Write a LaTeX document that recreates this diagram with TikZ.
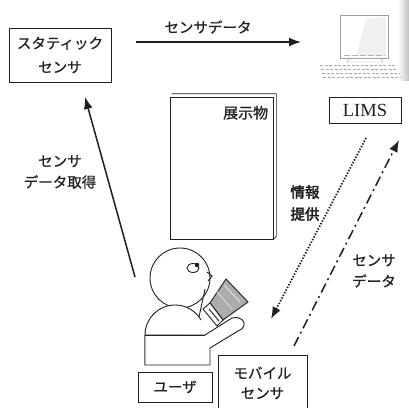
\documentclass[tikz,border=0pt]{standalone}
\usepackage{fontspec}
\newfontfamily\jp[FakeBold=0.7]{Noto Sans CJK JP}
\newfontfamily\jpbold[FakeBold=2.8]{Noto Sans CJK JP}
\newfontfamily\limsfont{Liberation Serif}
\usetikzlibrary{arrows.meta,positioning}
\definecolor{ink}{gray}{0.12}
\tikzset{
  box/.style={draw=ink,line width=1pt,inner sep=0pt,align=center,text=ink,font=\jp\fontsize{14.5}{24}\selectfont},
  lbl/.style={inner sep=0pt,align=center,text=ink,font=\jp\fontsize{14.5}{21}\selectfont},
  flow/.style={->,line width=1.5pt,draw=ink},
  body/.style={draw=ink,line width=0.9pt,fill=white},
}

\begin{document}
\begin{tikzpicture}[x=1pt,y=-1pt,>={Latex[length=12pt,width=9pt]}]
\useasboundingbox (0,0) rectangle (409,407);

% sensors, server and user
\node[box,minimum width=102,minimum height=54] (static) at (60,55) {スタティック\\センサ};
\node[box,minimum width=72,minimum height=26,font=\limsfont\fontsize{18.5}{20}\selectfont] (lims) at (365,110) {LIMS};
\node[box,minimum width=74,minimum height=30] (user) at (175,387) {ユーザ};
\node[box,minimum width=89,minimum height=56,font=\jp\fontsize{14.5}{20}\selectfont] (mobile) at (262.5,383) {モバイル\\センサ};

% exhibit panel
\node[draw=ink,line width=0.7pt,minimum width=103,minimum height=142] (exhibit) at (221.5,168) {};
\draw[ink,line width=0.7pt] ([shift={(2,-3)}]exhibit.north west) -- ([shift={(3,-3)}]exhibit.north east)
  -- ([shift={(3,-3)}]exhibit.south east) -- (exhibit.south east);
\node[lbl,anchor=north east,font=\jp\fontsize{15}{18}\selectfont] (exlabel) at ([shift={(-5,9)}]exhibit.north east) {展示物};

% the computer
\shade[left color=gray!5,right color=gray!50] (399,0) rectangle (409,80);
\fill[gray!12] (366,19) -- (386,17) -- (386,56) -- (356,56) -- cycle;
\draw[gray!75,line width=0.7pt] (340,15) rectangle (388,58);
\draw[gray!60,dash pattern=on 6pt off 2pt] (344,55) -- (385,55);
\draw[gray!70] (350,58) -- (347,62) -- (383,62) -- (380,58);
\foreach \r in {0,...,3}
  \draw[gray!65,line width=0.8pt,dash pattern=on 3pt off 1.5pt] (320+\r,65+\r*4) -- (396+\r*1.5,65+\r*4);

% user
\node[circle,body,minimum size=60,inner sep=0pt] (head) at (180,278) {};
\draw[body] (193,268) ellipse [x radius=6,y radius=4.5];
\fill[ink] (197,265) circle (2.3);
\draw[ink,line width=0.9pt] (207,272) -- (212,276) -- (208,281);
\draw[body] (145,365) -- (145,335) arc[start angle=180,end angle=330,radius=30];
\draw[ink,line width=0.9pt] (205,289) -- (199,317);
\filldraw[draw=ink,fill=gray!65,line width=0.9pt] (226,279) -- (248,302) -- (223,320) -- (210,303) -- cycle;
\draw[gray!25,line width=1pt] (224,285) -- (240,302);
\draw[gray!30,line width=1pt] (217,292) -- (232,309);
\filldraw[body] (210,303) -- (223,320) -- (217,326) -- (203,309) -- cycle;
\draw[ink,line width=0.9pt] (209,309) -- (219,321);
\draw[body] (145,335) -- (205,335) -- (232,318) .. controls (244,315) and (249,327) .. (238,331)
  -- (210,348) -- (210,365) -- (145,365) -- cycle;
\draw[ink,line width=0.5pt] (145,335) -- (205,335);

% data flows
\coordinate (sdA) at (136,42);
\coordinate (sdB) at (301,42);
\draw[flow] (sdA) -- (sdB);
\node[lbl] (sdlbl) at (208,27) {センサデータ};

\coordinate (acqA) at (135,277);
\coordinate (acqB) at (85,97);
\draw[flow] (acqA) -- (acqB);
\node[lbl] (acqlbl) at (60,172) {センサ\\データ取得};

\coordinate (infoA) at (366,138);
\coordinate (infoB) at (271,319);
\draw[flow,line width=1.8pt,dash pattern=on 1.4pt off 1.6pt] (infoA) -- (infoB);
\node[lbl,font=\jpbold\fontsize{14.5}{22}\selectfont] (infolbl) at (305,203) {情報\\提供};

\coordinate (sensA) at (294,346);
\coordinate (sensB) at (399,140);
\draw[flow,dash pattern=on 10pt off 4pt on 2pt off 4pt] (sensA) -- (sensB);
\node[lbl] (senslbl) at (374,271) {センサ\\データ};
\end{tikzpicture}
\end{document}
